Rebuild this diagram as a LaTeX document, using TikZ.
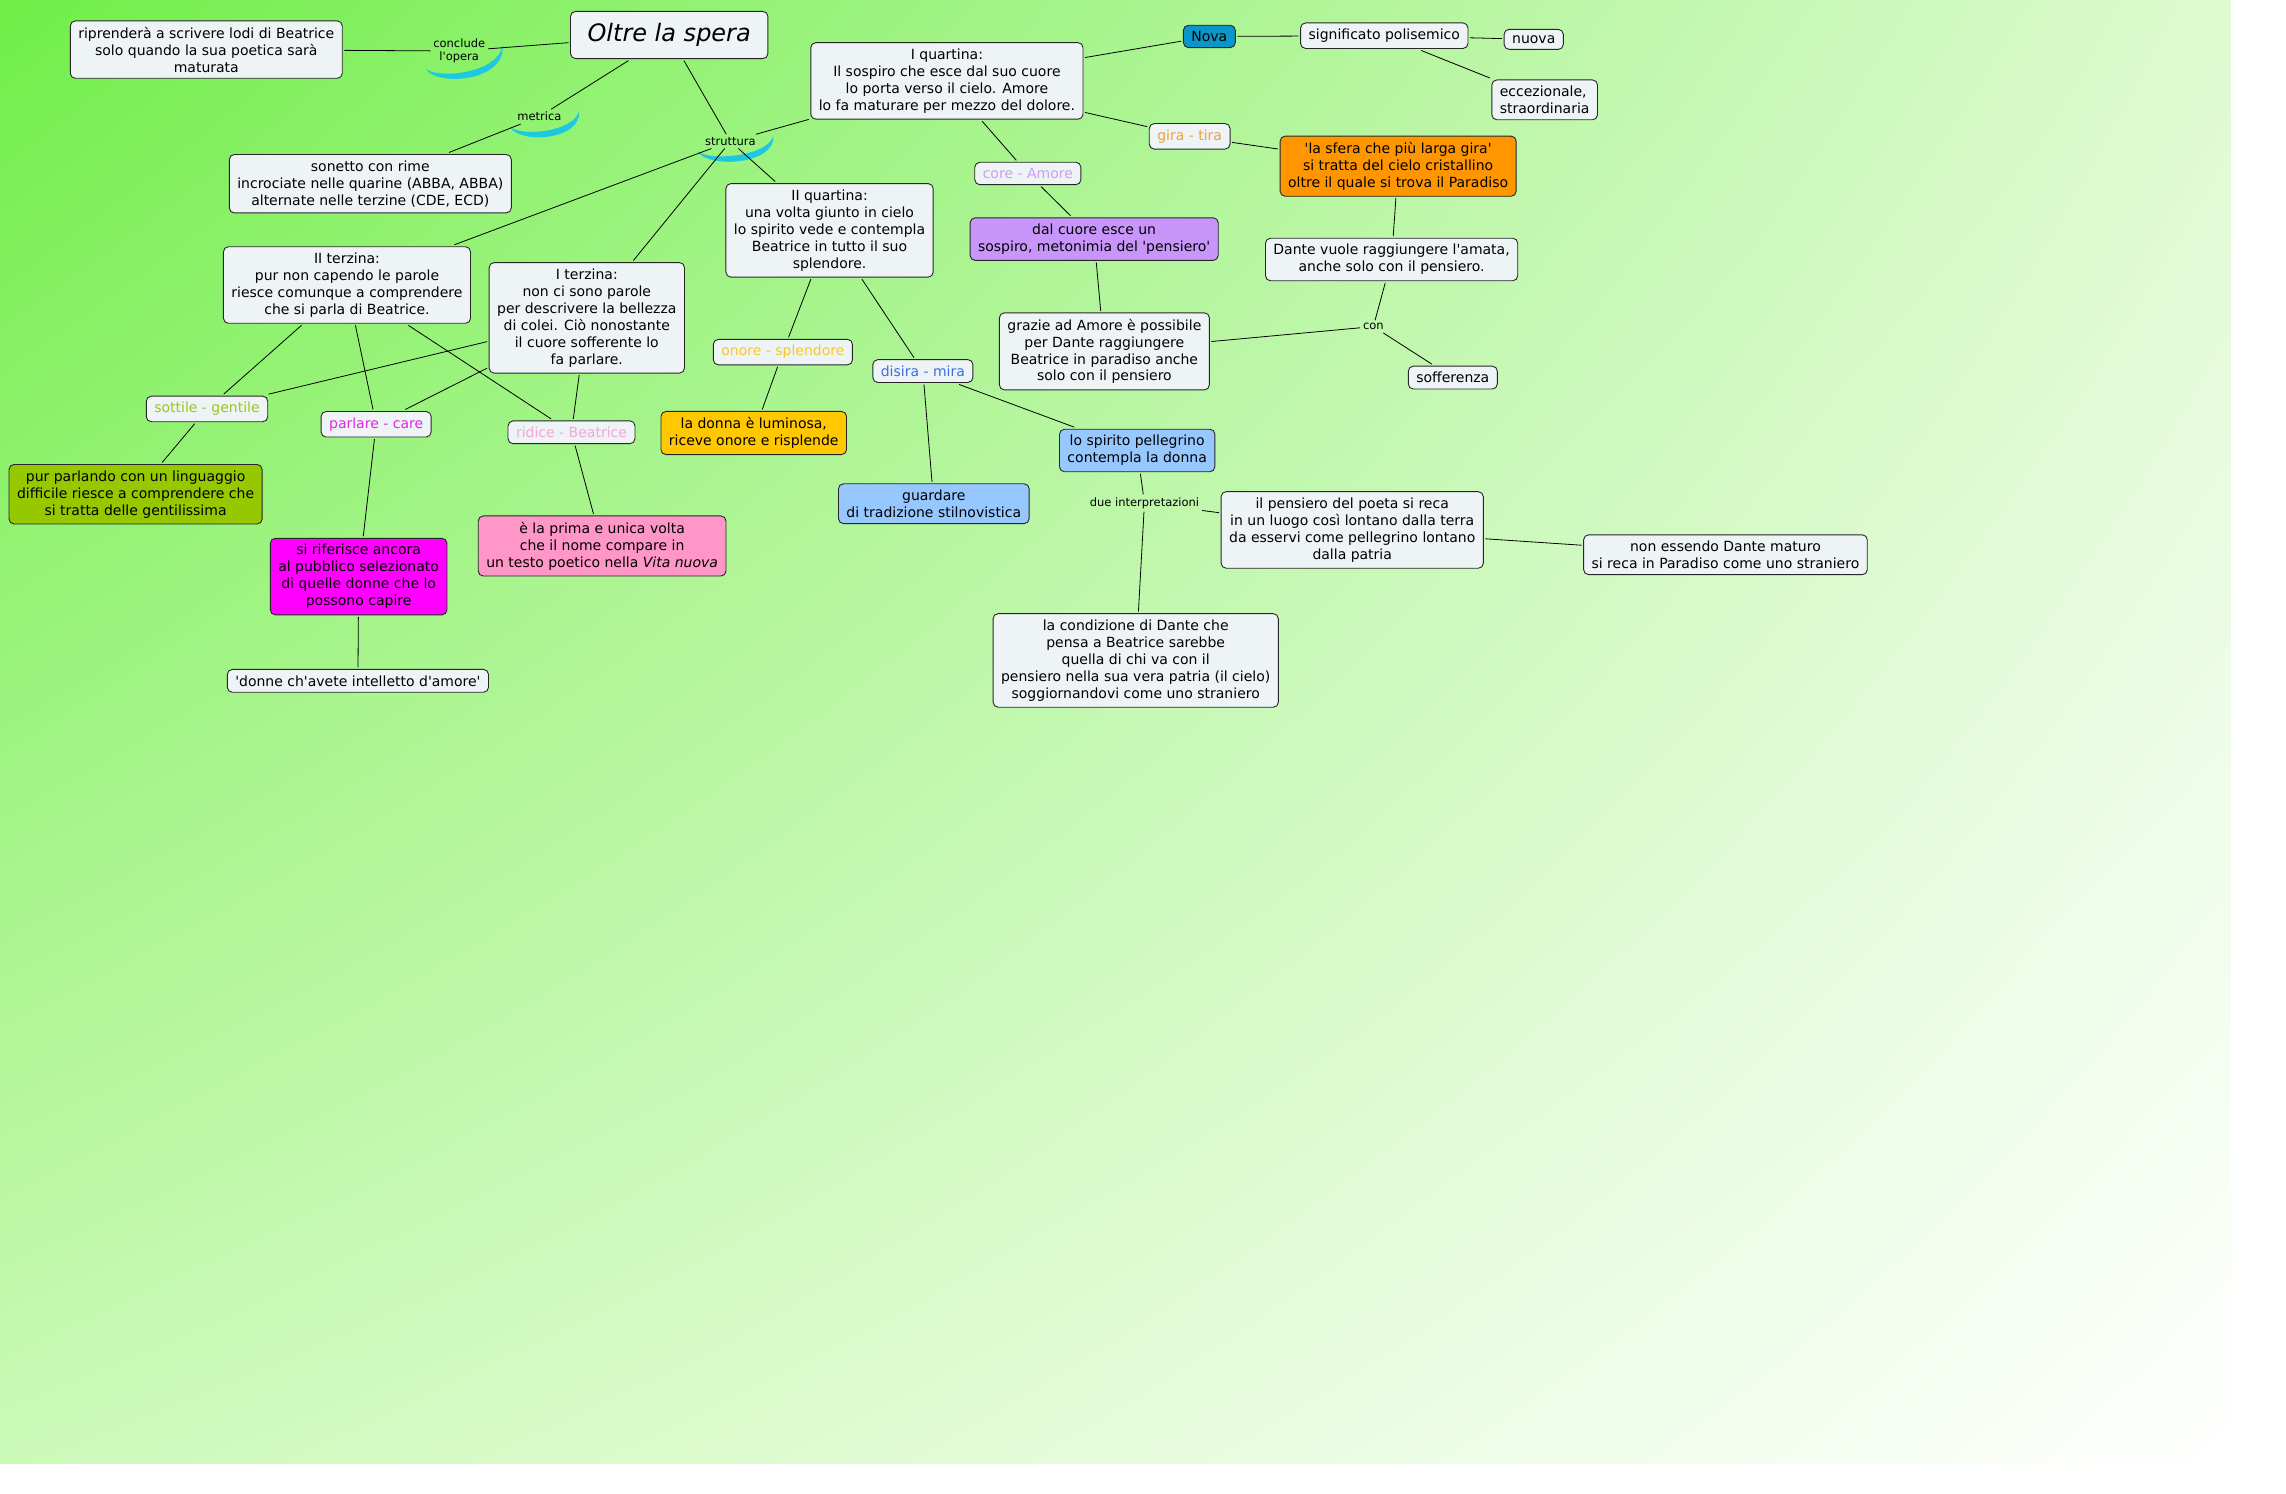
\documentclass[tikz,border=0pt]{standalone}
\usepackage{fontspec}
\usepackage{tikz}
\usetikzlibrary{calc,shadings}

\newfontfamily\verd{DejaVu Sans}
\newcommand{\testo}{\verd\fontsize{14}{17}\selectfont}
\newcommand{\piccolo}{\verd\fontsize{11.5}{13}\selectfont}
\newcommand{\titolo}{\verd\itshape\fontsize{24}{28}\selectfont}

\definecolor{cella}{RGB}{238,243,246}
\definecolor{bgA}{RGB}{112,238,72}
\definecolor{bgB}{RGB}{221,250,208}
\definecolor{bgC}{RGB}{204,249,184}
\definecolor{arcol}{RGB}{30,200,222}
\definecolor{nova}{RGB}{10,150,200}
\definecolor{sfera}{RGB}{255,150,0}
\definecolor{cuoreF}{RGB}{200,150,250}
\definecolor{donnaF}{RGB}{255,200,0}
\definecolor{azzurro}{RGB}{150,200,255}
\definecolor{oliva}{RGB}{150,200,0}
\definecolor{rosa}{RGB}{255,150,200}
\definecolor{fucsia}{RGB}{255,0,255}
\definecolor{giraC}{RGB}{240,160,60}
\definecolor{coreC}{RGB}{200,160,240}
\definecolor{onoreC}{RGB}{248,200,40}
\definecolor{disiraC}{RGB}{60,110,220}
\definecolor{sottC}{RGB}{160,195,30}
\definecolor{parlC}{RGB}{225,40,225}
\definecolor{ridC}{RGB}{245,165,215}

% crescent under a linking phrase
\newcommand{\lunetta}[1]{%
  \fill[arcol] ($(#1.south west)+(-3,2)$)
    .. controls ($(#1.south west)+(4,14)$) and ($(#1.south east)+(12,11)$)
    .. ($(#1.east)+(10,-4)$)
    .. controls ($(#1.south east)+(7,5)$) and ($(#1.south west)+(6,9)$)
    .. cycle;}

\begin{document}
\begin{tikzpicture}[x=1.458pt, y=-1.458pt,
  idea/.style={rectangle, draw=black!85, line width=0.9pt, rounded corners=5pt,
               fill=#1, align=center, font=\testo,
               inner xsep=8pt, inner ysep=6pt, outer sep=2pt},
  idea/.default=cella,
  coppia/.style={idea, text=#1},
  frase/.style={font=\piccolo, inner sep=1pt, outer sep=2pt, align=center},
  filo/.style={draw=black, line width=0.8pt}
]
  \useasboundingbox (0,0) rectangle (1568,1024.7);
  \shade[upper left=bgA, upper right=bgB, lower left=bgC, lower right=white]
    (0,0) rectangle (1530,1004);

  % Centre
  \node[idea, font=\titolo, inner xsep=17pt, inner ysep=12pt] (oltre) at (459,24) {Oltre la spera};
  \node[idea] (ripr) at (141.5,34) {riprenderà a scrivere lodi di Beatrice\\ solo quando la sua poetica sarà\\ maturata};
  \node[frase] (concl) at (315,35) {conclude\\ l'opera};
  \node[frase] (metr) at (370,80) {metrica};
  \node[frase] (strut) at (501,97) {struttura};
  \node[idea] (sonetto) at (254,126) {sonetto con rime\\ incrociate nelle quarine (ABBA, ABBA)\\ alternate nelle terzine (CDE, ECD)};
  \lunetta{concl}
  \lunetta{metr}
  \lunetta{strut}

  % I quartina
  \node[idea] (q1) at (649.5,55.5) {I quartina:\\ Il sospiro che esce dal suo cuore\\ lo porta verso il cielo. Amore\\ lo fa maturare per mezzo del dolore.};
  \node[idea=nova] (nova) at (829.5,25) {Nova};
  \node[idea] (polis) at (949.5,24.5) {significato polisemico};
  \node[idea] (nuova) at (1052,27) {nuova};
  \node[idea, align=left] (eccez) at (1059.5,68.5) {eccezionale,\\ straordinaria};
  \node[coppia=giraC] (gira) at (816,93.5) {gira - tira};
  \node[idea=sfera] (sfera) at (959,114) {'la sfera che più larga gira'\\ si tratta del cielo cristallino\\ oltre il quale si trova il Paradiso};
  \node[coppia=coreC] (core) at (705,119) {core - Amore};
  \node[idea=cuoreF] (cuore) at (750.5,164) {dal cuore esce un\\ sospiro, metonimia del 'pensiero'};
  \node[idea] (dante) at (954.5,178) {Dante vuole raggiungere l'amata,\\ anche solo con il pensiero.};
  \node[frase] (con) at (942,224) {con};
  \node[idea] (soff) at (996.5,259) {sofferenza};
  \node[idea] (grazie) at (757.5,241) {grazie ad Amore è possibile\\ per Dante raggiungere\\ Beatrice in paradiso anche\\ solo con il pensiero};

  % II quartina
  \node[idea] (q2) at (569,158) {II quartina:\\ una volta giunto in cielo\\ lo spirito vede e contempla\\ Beatrice in tutto il suo\\ splendore.};
  \node[coppia=onoreC] (onore) at (537,241.5) {onore - splendore};
  \node[idea=donnaF] (donna) at (517,297) {la donna è luminosa,\\ riceve onore e risplende};
  \node[coppia=disiraC] (disira) at (633,254.5) {disira - mira};
  \node[idea=azzurro] (guard) at (640.5,345.5) {guardare\\ di tradizione stilnovistica};
  \node[idea=azzurro] (pelleg) at (780,309) {lo spirito pellegrino\\ contempla la donna};
  \node[frase] (due) at (785,345) {due interpretazioni};
  \node[idea] (pens) at (927.5,363.5) {il pensiero del poeta si reca\\ in un luogo così lontano dalla terra\\ da esservi come pellegrino lontano\\ dalla patria};
  \node[idea] (nonEss) at (1183.5,380.5) {non essendo Dante maturo\\ si reca in Paradiso come uno straniero};
  \node[idea] (condiz) at (779,453) {la condizione di Dante che\\ pensa a Beatrice sarebbe\\ quella di chi va con il\\ pensiero nella sua vera patria (il cielo)\\ soggiornandovi come uno straniero};

  % Terzine
  \node[idea] (t2) at (238,195.5) {II terzina:\\ pur non capendo le parole\\ riesce comunque a comprendere\\ che si parla di Beatrice.};
  \node[idea] (t1) at (402.5,218) {I terzina:\\ non ci sono parole\\ per descrivere la bellezza\\ di colei. Ciò nonostante\\ il cuore sofferente lo\\ fa parlare.};
  \node[coppia=sottC] (sott) at (142,280.5) {sottile - gentile};
  \node[idea=oliva] (purP) at (93,339) {pur parlando con un linguaggio\\ difficile riesce a comprendere che\\ si tratta delle gentilissima};
  \node[coppia=parlC] (parl) at (258,291) {parlare - care};
  \node[idea=fucsia] (rifer) at (246,395.5) {si riferisce ancora\\ al pubblico selezionato\\ di quelle donne che lo\\ possono capire};
  \node[idea] (donne) at (245.5,467) {'donne ch'avete intelletto d'amore'};
  \node[coppia=ridC] (ridice) at (392,296.5) {ridice - Beatrice};
  \node[idea=rosa] (prima) at (413,374.5) {è la prima e unica volta\\ che il nome compare in\\ un testo poetico nella \textit{Vita nuova}};

  % Connections
  \draw[filo] (oltre) -- (concl);
  \draw[filo] (concl) -- (ripr);
  \draw[filo] (oltre) -- (metr);
  \draw[filo] (metr) -- (sonetto);
  \draw[filo] (oltre) -- (strut);
  \draw[filo] (strut) -- (q1);
  \draw[filo] (strut) -- (q2);
  \draw[filo] (strut) -- (t1);
  \draw[filo] (strut) -- (t2);
  \draw[filo] (q1) -- (nova);
  \draw[filo] (nova) -- (polis);
  \draw[filo] (polis) -- (nuova);
  \draw[filo] (polis) -- (eccez);
  \draw[filo] (q1) -- (gira);
  \draw[filo] (gira) -- (sfera);
  \draw[filo] (sfera) -- (dante);
  \draw[filo] (dante) -- (con);
  \draw[filo] (con) -- (grazie);
  \draw[filo] (con) -- (soff);
  \draw[filo] (q1) -- (core);
  \draw[filo] (core) -- (cuore);
  \draw[filo] (cuore) -- (grazie);
  \draw[filo] (q2) -- (onore);
  \draw[filo] (onore) -- (donna);
  \draw[filo] (q2) -- (disira);
  \draw[filo] (disira) -- (guard);
  \draw[filo] (disira) -- (pelleg);
  \draw[filo] (pelleg) -- (due);
  \draw[filo] (due) -- (pens);
  \draw[filo] (due) -- (condiz);
  \draw[filo] (pens) -- (nonEss);
  \draw[filo] (t2) -- (sott);
  \draw[filo] (t2) -- (parl);
  \draw[filo] (t2) -- (ridice);
  \draw[filo] (t1) -- (sott);
  \draw[filo] (t1) -- (parl);
  \draw[filo] (t1) -- (ridice);
  \draw[filo] (sott) -- (purP);
  \draw[filo] (parl) -- (rifer);
  \draw[filo] (rifer) -- (donne);
  \draw[filo] (ridice) -- (prima);
\end{tikzpicture}
\end{document}
